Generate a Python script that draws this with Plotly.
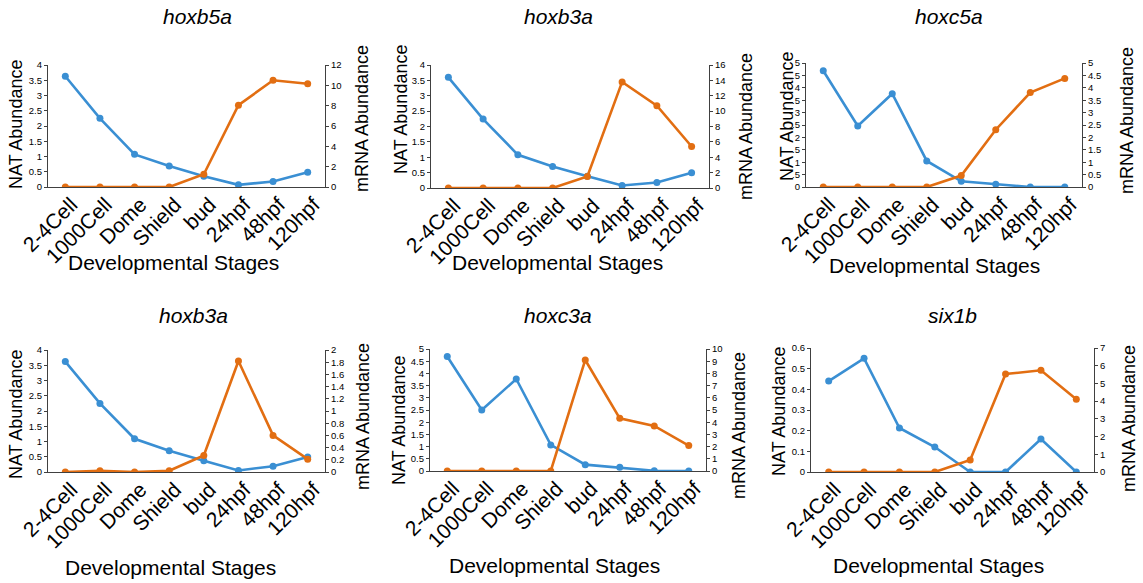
import plotly.graph_objects as go

# Developmental stages on the x axis
stages = ["2-4Cell", "1000Cell", "Dome", "Shield", "bud", "24hpf", "48hpf", "120hpf"]

# Gene names (panel titles)
genes = ["hoxb5a", "hoxb3a", "hoxc5a", "hoxb3a", "hoxc3a", "six1b"]

# NAT abundance (left axis) per panel
nat_hoxb5a = [3.63, 2.25, 1.07, 0.69, 0.35, 0.07, 0.18, 0.48]
nat_hoxb3a_1 = [3.60, 2.24, 1.08, 0.70, 0.38, 0.08, 0.18, 0.50]
nat_hoxc5a = [4.69, 2.46, 3.76, 1.05, 0.23, 0.11, 0.0, 0.0]
nat_hoxb3a_2 = [3.62, 2.25, 1.09, 0.70, 0.37, 0.05, 0.19, 0.49]
nat_hoxc3a = [4.69, 2.50, 3.77, 1.07, 0.26, 0.15, 0.01, 0.0]
nat_six1b = [0.44, 0.55, 0.213, 0.121, 0.0, 0.0, 0.16, 0.0]

# mRNA abundance (right axis) per panel
mrna_hoxb5a = [0, 0, 0, 0, 1.25, 8.05, 10.5, 10.16]
mrna_hoxb3a_1 = [0, 0, 0, 0, 1.5, 13.8, 10.7, 5.4]
mrna_hoxc5a = [0, 0, 0, 0, 0.46, 2.31, 3.81, 4.38]
mrna_hoxb3a_2 = [0, 0.02, 0, 0.02, 0.27, 1.82, 0.60, 0.21]
mrna_hoxc3a = [0, 0, 0, 0, 9.1, 4.32, 3.69, 2.08]
mrna_six1b = [0, 0, 0, 0, 0.68, 5.53, 5.74, 4.10]

nat_series = [nat_hoxb5a, nat_hoxb3a_1, nat_hoxc5a, nat_hoxb3a_2, nat_hoxc3a, nat_six1b]
mrna_series = [mrna_hoxb5a, mrna_hoxb3a_1, mrna_hoxc5a, mrna_hoxb3a_2, mrna_hoxc3a, mrna_six1b]

# Axis ranges and tick steps
left_max = [4, 4, 5, 4, 5, 0.6]
left_step = [0.5, 0.5, 0.5, 0.5, 0.5, 0.1]
right_max = [12, 16, 5, 2, 10, 7]
right_step = [2, 2, 0.5, 0.2, 1, 1]

# Left tick labels of the hoxc5a panel (leading digit cut off at the edge)
hoxc5a_left_ticktext = ["0", ".5", "1", ".5", "2", ".5", "3", ".5", "4", ".5", "5"]

W, H = 1143, 583
BLUE = "#3a8fd3"
ORANGE = "#e26e12"
AXIS = "#404040"
FONT = "Liberation Sans, Arial, sans-serif"

# Plot boxes in pixels: x0, x1, y_top, y_bottom
boxes = [
    (48, 325, 65, 187),
    (431, 709, 65, 188),
    (806, 1082, 63, 187),
    (48, 325, 350, 472),
    (430, 706, 349, 471),
    (811, 1094, 348, 472),
]
# Text positions in pixels
title_pos = [(197, 17), (558, 17), (949, 17), (193, 315), (558, 315), (952, 315)]
nat_pos = [(16, 125), (401, 110), (787, 117), (16, 415), (399, 421), (779, 412)]
mrna_pos = [(362, 119), (746, 127), (1127, 121), (363, 417), (739, 426), (1129, 419)]
dev_pos = [(173, 262), (557, 262), (934, 265), (170, 567), (554, 565), (939, 565)]

fig = go.Figure()
layout = dict(
    width=W, height=H,
    margin=dict(l=0, r=0, t=0, b=0, autoexpand=False),
    paper_bgcolor="white", plot_bgcolor="white",
    showlegend=False,
    font=dict(family=FONT, color="black"),
)
annotations = []


def px(x):
    return x / W


def py(y):
    return 1 - y / H


for i in range(6):
    xi = i + 1
    yl = 2 * i + 1
    yr = 2 * i + 2
    xname = "xaxis" if xi == 1 else f"xaxis{xi}"
    ylname = "yaxis" if yl == 1 else f"yaxis{yl}"
    yrname = f"yaxis{yr}"
    xref = "x" if xi == 1 else f"x{xi}"
    ylref = "y" if yl == 1 else f"y{yl}"
    yrref = f"y{yr}"

    x0, x1, yt, yb = boxes[i]

    fig.add_trace(go.Scatter(
        x=stages, y=nat_series[i], xaxis=xref, yaxis=ylref,
        mode="lines+markers",
        line=dict(color=BLUE, width=2.6),
        marker=dict(color=BLUE, size=7),
    ))
    fig.add_trace(go.Scatter(
        x=stages, y=mrna_series[i], xaxis=xref, yaxis=yrref,
        mode="lines+markers",
        line=dict(color=ORANGE, width=2.6),
        marker=dict(color=ORANGE, size=7),
    ))

    layout[xname] = dict(
        domain=[px(x0), px(x1)], anchor=ylref, automargin=False,
        type="category", range=[-0.5, 7.5],
        showline=True, linecolor=AXIS, linewidth=1.2,
        showgrid=False, zeroline=False,
        ticks="", tickangle=-45,
        ticklabelstandoff=-4, ticklabelshift=6,
        tickfont=dict(size=21, family=FONT, color="black"),
    )

    n_left = int(round(left_max[i] / left_step[i]))
    lvals = [round(k * left_step[i], 4) for k in range(n_left + 1)]
    left_axis = dict(
        domain=[py(yb), py(yt)], anchor=xref, automargin=False,
        range=[0, left_max[i]], tickvals=lvals,
        showline=True, linecolor=AXIS, linewidth=1.2,
        showgrid=False, zeroline=False,
        ticks="outside", ticklen=3, tickcolor=AXIS, tickwidth=1,
        tickfont=dict(size=9.5, family=FONT, color="black"),
    )
    if i == 2:
        left_axis["ticktext"] = hoxc5a_left_ticktext
    layout[ylname] = left_axis

    n_right = int(round(right_max[i] / right_step[i]))
    rvals = [round(k * right_step[i], 4) for k in range(n_right + 1)]
    layout[yrname] = dict(
        overlaying=ylref, side="right", anchor=xref, automargin=False,
        range=[0, right_max[i]], tickvals=rvals,
        showline=True, linecolor=AXIS, linewidth=1.2,
        showgrid=False, zeroline=False,
        ticks="outside", ticklen=3, tickcolor=AXIS, tickwidth=1,
        tickfont=dict(size=9.5, family=FONT, color="black"),
    )

    tx, ty = title_pos[i]
    annotations.append(dict(
        text=f"<i>{genes[i]}</i>", x=px(tx), y=py(ty), xref="paper", yref="paper",
        xanchor="center", yanchor="middle", showarrow=False,
        font=dict(size=21, family=FONT, color="black"),
    ))
    nx, ny = nat_pos[i]
    annotations.append(dict(
        text="NAT Abundance", x=px(nx), y=py(ny), xref="paper", yref="paper",
        xanchor="center", yanchor="middle", showarrow=False, textangle=-90,
        font=dict(size=18, family=FONT, color="black"),
    ))
    mx, my = mrna_pos[i]
    annotations.append(dict(
        text="mRNA Abundance", x=px(mx), y=py(my), xref="paper", yref="paper",
        xanchor="center", yanchor="middle", showarrow=False, textangle=-90,
        font=dict(size=18, family=FONT, color="black"),
    ))
    dx, dy = dev_pos[i]
    annotations.append(dict(
        text="Developmental Stages", x=px(dx), y=py(dy), xref="paper", yref="paper",
        xanchor="center", yanchor="middle", showarrow=False,
        font=dict(size=21, family=FONT, color="black"),
    ))

layout["annotations"] = annotations
fig.update_layout(**layout)
fig.write_html("out.html")
